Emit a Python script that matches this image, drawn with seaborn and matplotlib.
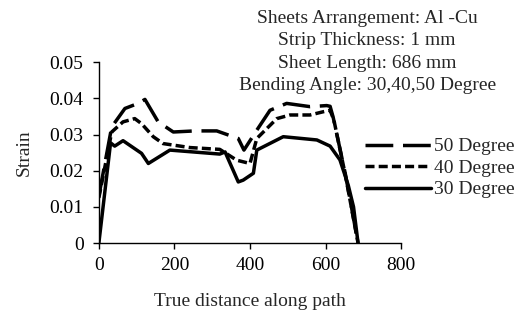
import numpy as np
import pandas as pd
import matplotlib
matplotlib.use("Agg")
import matplotlib.pyplot as plt
import seaborn as sns

sns.set_theme(style="ticks")
plt.rcParams['font.family'] = ['Liberation Serif', 'DejaVu Serif']
plt.rcParams['lines.scale_dashes'] = False

series_names = ["50 Degree", "40 Degree", "30 Degree"]

x50 = [0, 34, 69, 104, 122, 157, 197, 254, 312, 369, 384, 418, 453, 497, 559, 603, 612, 620, 652, 686]
y50 = [0.013, 0.0321, 0.0372, 0.0386, 0.0397, 0.0335, 0.0307, 0.0310, 0.0310, 0.0289, 0.0257, 0.0312,
       0.0367, 0.0386, 0.0377, 0.0380, 0.0378, 0.0348, 0.0193, 0.0]

x40 = [0, 34, 64, 95, 113, 144, 170, 241, 320, 365, 400, 418, 471, 506, 559, 594, 612, 622, 652, 686]
y40 = [0.0125, 0.0307, 0.0335, 0.0344, 0.0330, 0.0294, 0.0275, 0.0264, 0.0259, 0.0229, 0.0220, 0.0289,
       0.0344, 0.0354, 0.0354, 0.0363, 0.0367, 0.0340, 0.0190, 0.0]

x30 = [0, 31, 42, 64, 113, 131, 188, 320, 334, 369, 382, 409, 418, 488, 577, 612, 638, 660, 674, 686]
y30 = [0.0, 0.0277, 0.0268, 0.0283, 0.0248, 0.0220, 0.0257, 0.0246, 0.0252, 0.0169, 0.0174, 0.0193,
       0.0257, 0.0294, 0.0285, 0.0268, 0.0230, 0.0160, 0.0100, 0.0]

title_lines = ["Sheets Arrangement: Al -Cu", "Strip Thickness: 1 mm",
               "Sheet Length: 686 mm", "Bending Angle: 30,40,50 Degree"]

df = pd.concat([
    pd.DataFrame({"x": x50, "y": y50, "s": series_names[0]}),
    pd.DataFrame({"x": x40, "y": y40, "s": series_names[1]}),
    pd.DataFrame({"x": x30, "y": y30, "s": series_names[2]}),
], ignore_index=True)

fig = plt.figure(figsize=(5.23, 3.22), dpi=100)
ax = fig.add_axes([0.189, 0.245, 0.578, 0.562])

dashes = {series_names[0]: (20, 7), series_names[1]: (6.5, 3), series_names[2]: ""}
sns.lineplot(data=df, x="x", y="y", style="s", style_order=series_names, dashes=dashes,
             color="black", linewidth=2.5, sort=False, estimator=None, ax=ax, legend=True)

FS = 14
ax.set_xlim(0, 800)
ax.set_ylim(0, 0.05)
ax.set_xticks([0, 200, 400, 600, 800])
ax.set_yticks([0, 0.01, 0.02, 0.03, 0.04, 0.05])
ax.set_yticklabels(["0", "0.01", "0.02", "0.03", "0.04", "0.05"])
for s in ["top", "right"]:
    ax.spines[s].set_visible(False)
for s in ["left", "bottom"]:
    ax.spines[s].set_color("black")
    ax.spines[s].set_linewidth(1.0)
ax.tick_params(axis="both", direction="out", length=4, width=1, colors="black", labelsize=FS, pad=6)
ax.tick_params(axis="y", pad=7)
ax.set_xlabel("True distance along path", fontsize=FS, labelpad=14)
ax.set_ylabel("Strain", fontsize=FS, labelpad=12)

h, l = ax.get_legend_handles_labels()
ax.legend(h, l, loc="upper left", bbox_to_anchor=(0.698, 0.572), bbox_transform=fig.transFigure,
          frameon=False, fontsize=FS, handlelength=3.4, handletextpad=0.15, labelspacing=0.2,
          borderpad=0, borderaxespad=0)

for i, line in enumerate(title_lines):
    fig.text(0.702, 0.929 - i * 0.0695, line, ha="center", va="baseline", fontsize=FS)

fig.savefig("out.png", dpi=100)
